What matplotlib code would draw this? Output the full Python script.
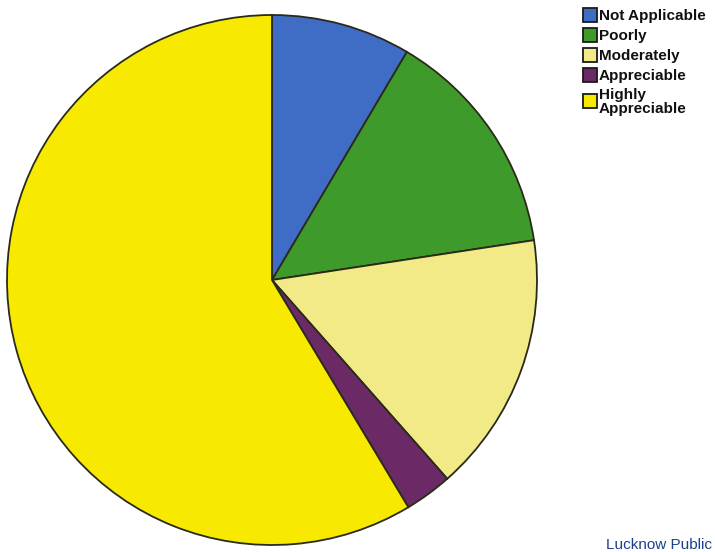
import matplotlib
matplotlib.use("Agg")
import matplotlib.pyplot as plt
from matplotlib.patches import Rectangle

categories = ["Not Applicable", "Poorly", "Moderately", "Appreciable", "Highly\nAppreciable"]
values = [8.5, 14.1, 15.9, 2.9, 58.6]
colors = ["#3f6cc4", "#3f9a2c", "#f2ea86", "#6b2a66", "#f7ea00"]

W, H = 715, 552
fig = plt.figure(figsize=(W / 100, H / 100), dpi=100)
fig.patch.set_facecolor("white")

ax = fig.add_axes([0, 0, 1, 1])
cx, cy, r = 272, H - 280, 265
ax.pie(values, colors=colors, startangle=90, counterclock=False,
       center=(cx, cy), radius=r, frame=True,
       wedgeprops=dict(edgecolor="#2a2a1a", linewidth=1.3))
ax.set_xlim(0, W)
ax.set_ylim(0, H)
ax.set_aspect("equal")
ax.axis("off")

# legend
box_x, box_w, box_h = 583, 14, 14
row_y = [15, 35, 55, 75, 101]
for lab, col, y in zip(categories, colors, row_y):
    fig.patches.append(Rectangle((box_x / W, 1 - (y + box_h / 2) / H), box_w / W, box_h / H,
                                 transform=fig.transFigure, facecolor=col,
                                 edgecolor="#1a1a1a", linewidth=1.3))
    fig.text((box_x + box_w + 2) / W, 1 - (y + 1) / H, lab, ha="left", va="center",
             fontsize=11, family="Liberation Sans", weight="bold", color="#111111",
             linespacing=0.92)

fig.text(712 / W, 1 - 552 / H, "Lucknow Public", ha="right", va="bottom",
         fontsize=11, family="Liberation Sans", color="#1d3f8f")

fig.savefig("out.png", dpi=100, facecolor="white")
